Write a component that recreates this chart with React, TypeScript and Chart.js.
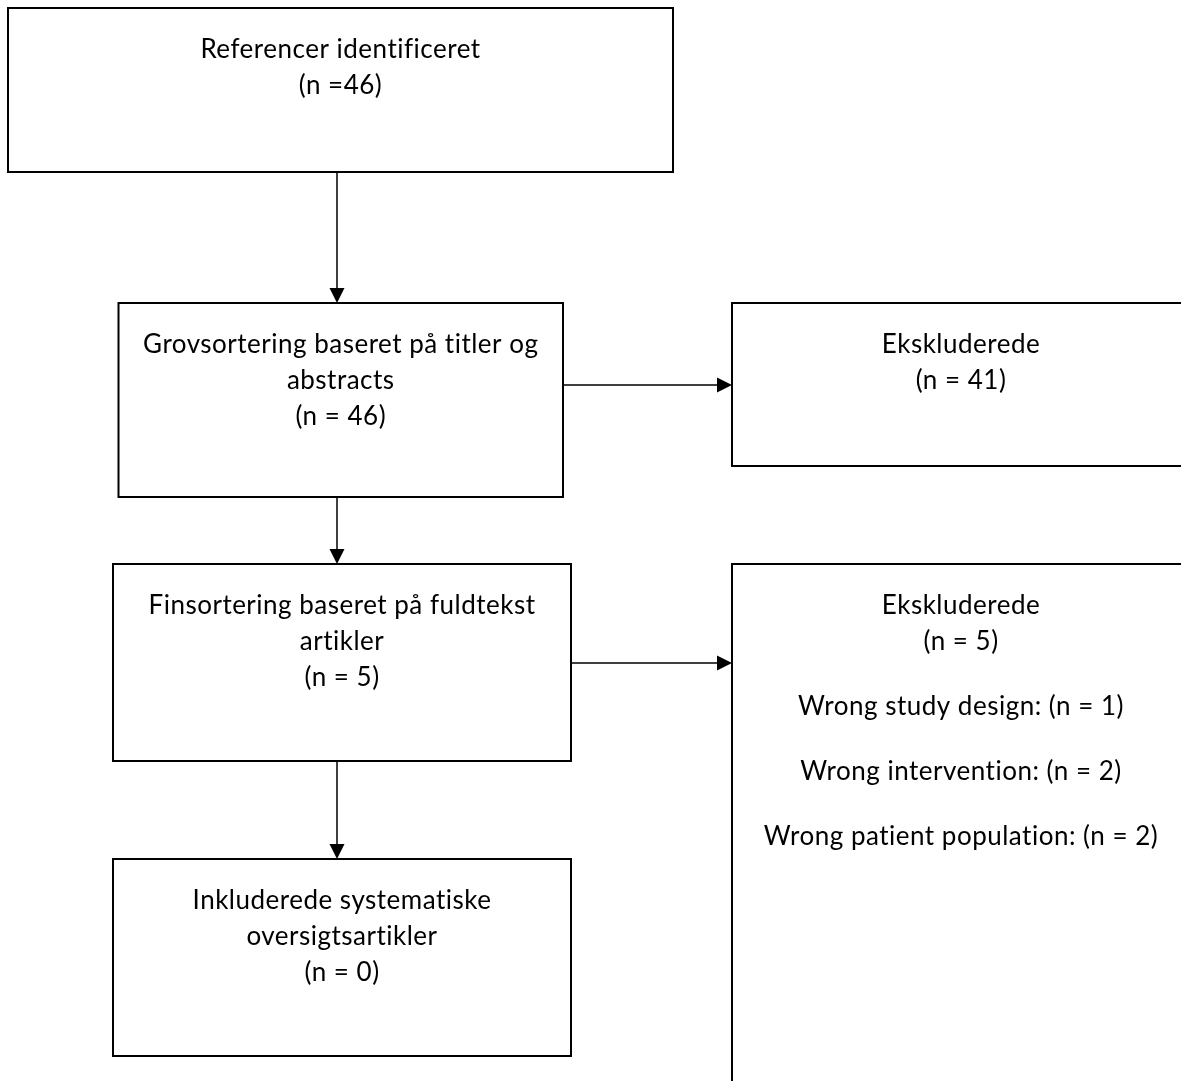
import React, { useEffect, useRef } from "react";
import { Chart, registerables } from "chart.js";

Chart.register(...registerables);

// ---- Data ----
const stageLines: string[][] = [
  ["Referencer identificeret"],
  ["Grovsortering baseret på titler og", "abstracts"],
  ["Finsortering baseret på fuldtekst", "artikler"],
  ["Inkluderede systematiske", "oversigtsartikler"],
];
const stageCounts: number[] = [46, 46, 5, 0];
const excludedLabel = "Ekskluderede";
const excludedCounts: number[] = [41, 5];
const reasonLabels: string[] = ["Wrong study design", "Wrong intervention", "Wrong patient population"];
const reasonCounts: number[] = [1, 2, 2];

// ---- Layout (chart units) ----
type Box = { x0: number; x1: number; y0: number; y1: number };
const stageBoxes: Box[] = [
  { x0: 8, x1: 673, y0: 8, y1: 172 },
  { x0: 118.5, x1: 563, y0: 303, y1: 497 },
  { x0: 113, x1: 571, y0: 564, y1: 761 },
  { x0: 113, x1: 571, y0: 859, y1: 1056 },
];
const excludedBoxes: Box[] = [
  { x0: 732, x1: 1190, y0: 303, y1: 466 },
  { x0: 732, x1: 1190, y0: 564, y1: 1110 },
];
const flowX = 337;
const sideArrowY = [385, 663];

const FONT = "Lato, 'Open Sans', sans-serif";
const FONT_SIZE = 26;
const LINE_GAP = 36;
const PARA_GAP = 65;
const FIRST_BASELINE = 49.5;

const fmtCount = (n: number, tight: boolean) => (tight ? `(n =${n})` : `(n = ${n})`);

const flowPlugin = {
  id: "flowPlugin",
  afterDraw(chart: any) {
    const ctx: any = chart.ctx;
    const xs = chart.scales.x;
    const ys = chart.scales.y;
    const px = (v: number) => xs.getPixelForValue(v);
    const py = (v: number) => ys.getPixelForValue(v);

    ctx.save();
    ctx.strokeStyle = "#000";
    ctx.fillStyle = "#000";

    const drawBox = (b: Box) => {
      ctx.lineWidth = 2;
      ctx.strokeRect(px(b.x0), py(b.y0), px(b.x1) - px(b.x0), py(b.y1) - py(b.y0));
    };
    const drawArrowDown = (x: number, y0: number, y1: number) => {
      const X = px(x), Y0 = py(y0), Y1 = py(y1);
      ctx.lineWidth = 1.5;
      ctx.beginPath();
      ctx.moveTo(X, Y0);
      ctx.lineTo(X, Y1 - 12);
      ctx.stroke();
      ctx.beginPath();
      ctx.moveTo(X, Y1);
      ctx.lineTo(X - 7.5, Y1 - 15);
      ctx.lineTo(X + 7.5, Y1 - 15);
      ctx.closePath();
      ctx.fill();
    };
    const drawArrowRight = (y: number, x0: number, x1: number) => {
      const Y = py(y), X0 = px(x0), X1 = px(x1);
      ctx.lineWidth = 1.5;
      ctx.beginPath();
      ctx.moveTo(X0, Y);
      ctx.lineTo(X1 - 12, Y);
      ctx.stroke();
      ctx.beginPath();
      ctx.moveTo(X1, Y);
      ctx.lineTo(X1 - 15, Y - 7.5);
      ctx.lineTo(X1 - 15, Y + 7.5);
      ctx.closePath();
      ctx.fill();
    };
    const drawLines = (b: Box, lines: { text: string; gap: number }[]) => {
      ctx.font = `${FONT_SIZE}px ${FONT}`;
      try { ctx.letterSpacing = "0.5px"; } catch (e) { /* ignore */ }
      ctx.textAlign = "center";
      ctx.textBaseline = "alphabetic";
      const cx = (px(b.x0) + px(b.x1)) / 2;
      let y = py(b.y0) + FIRST_BASELINE;
      lines.forEach((l, i) => {
        if (i > 0) y += l.gap;
        ctx.fillText(l.text, cx, y);
      });
    };

    // stage boxes
    stageBoxes.forEach((b, i) => {
      drawBox(b);
      const lines = stageLines[i].map((t) => ({ text: t, gap: LINE_GAP }));
      lines.push({ text: fmtCount(stageCounts[i], i === 0), gap: LINE_GAP });
      drawLines(b, lines);
    });

    // excluded boxes
    excludedBoxes.forEach((b, i) => {
      drawBox(b);
      const lines = [
        { text: excludedLabel, gap: LINE_GAP },
        { text: fmtCount(excludedCounts[i], false), gap: LINE_GAP },
      ];
      if (i === 1) {
        reasonLabels.forEach((r, k) => {
          lines.push({ text: `${r}: ${fmtCount(reasonCounts[k], false)}`, gap: PARA_GAP });
        });
      }
      drawLines(b, lines);
    });

    // vertical arrows
    for (let i = 0; i < stageBoxes.length - 1; i++) {
      drawArrowDown(flowX, stageBoxes[i].y1, stageBoxes[i + 1].y0);
    }
    // side arrows
    excludedBoxes.forEach((b, i) => {
      const src = stageBoxes[i + 1];
      drawArrowRight(sideArrowY[i], src.x1, b.x0);
    });

    ctx.restore();
  },
};

export default function App() {
  const canvasRef = useRef<HTMLCanvasElement | null>(null);

  useEffect(() => {
    if (!canvasRef.current) return;
    const chart = new Chart(canvasRef.current, {
      type: "scatter",
      data: { datasets: [{ data: [], pointRadius: 0 }] },
      options: {
        animation: false,
        responsive: true,
        maintainAspectRatio: false,
        layout: { padding: 0 },
        plugins: { legend: { display: false }, tooltip: { enabled: false } },
        scales: {
          x: { type: "linear", min: 0, max: 1181, display: false },
          y: { type: "linear", min: 0, max: 1081, reverse: true, display: false },
        },
      },
      plugins: [flowPlugin],
    });
    return () => chart.destroy();
  }, []);

  return (
    <div style={{ position: "fixed", left: 0, top: 0, width: 1181, height: 1081, background: "#fff" }}>
      <canvas ref={canvasRef} />
    </div>
  );
}
